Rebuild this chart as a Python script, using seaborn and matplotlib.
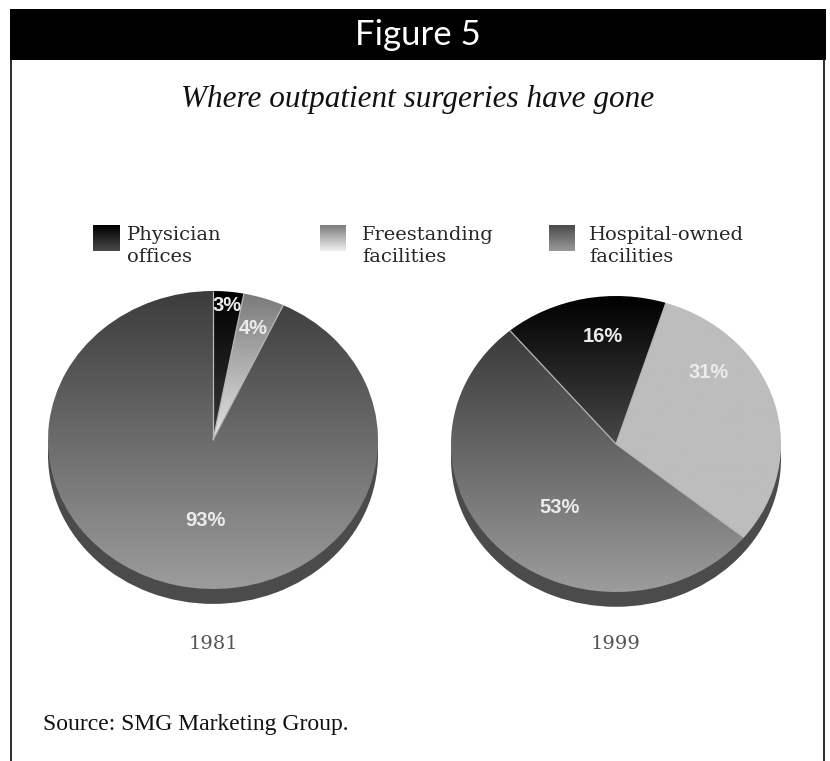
import numpy as np
import matplotlib
matplotlib.use("Agg")
import matplotlib.pyplot as plt
import seaborn as sns
from matplotlib.patches import Rectangle

# ---- data ----
categories = ["Physician\noffices", "Freestanding\nfacilities", "Hospital-owned\nfacilities"]
years = ["1981", "1999"]
shares_1981 = [3, 4, 93]
shares_1999 = [16, 31, 53]

title = "Figure 5"
subtitle = "Where outpatient surgeries have gone"
source = "Source: SMG Marketing Group."

# ---- styling ----
sns.set_theme(style="white")
plt.rcParams["font.family"] = ["DejaVu Sans"]

W, H = 830, 761
fig = plt.figure(figsize=(W / 100, H / 100), dpi=100)
fig.patch.set_facecolor("white")

# (top colour, bottom colour) of the shading used by each category, per pie
shades = {
    "1981": [("#000000", "#3a3a3a"), ("#7a7a7a", "#e6e6e6"), ("#3c3c3c", "#9c9c9c")],
    "1999": [("#000000", "#474747"), ("#bdbdbd", "#bdbdbd"), ("#3a3a3a", "#9c9c9c")],
}
swatch_shades = [("#000000", "#4a4a4a"), ("#7c7c7c", "#f0f0f0"), ("#4a4a4a", "#9a9a9a")]

# pie geometry in pixels: centre x, centre y, x radius, y radius
pie_geom = {"1981": (213, 440, 165, 149), "1999": (616, 444, 165, 148)}
start_angles = {"1981": 90, "1999": 130}
# label placement: (radial distance, angular offset in degrees)
label_place = {
    "1981": [(0.91, 0.0), (0.79, 0.0), (0.54, 8.0)],
    "1999": [(0.73, -5.0), (0.74, 24.0), (0.55, 6.0)],
}
LIM = 1.2


def vgrad(top, bottom, n=256):
    """Rows of colours running from bottom (row 0) to top."""
    return np.array(sns.blend_palette([bottom, top], n_colors=n))[:, None, :]


# ---- frame, header and text on a pixel-space overlay ----
bg = fig.add_axes([0, 0, 1, 1])
bg.axis("off")
bg.add_patch(Rectangle((10, 9), 816, 51, facecolor="black", edgecolor="none"))
bg.plot([11, 11], [60, H], color="#1a1a1a", lw=1.3)
bg.plot([824, 824], [60, H], color="#1a1a1a", lw=1.3)
bg.text(418, 35, title, color="white", fontsize=25, ha="center", va="center",
        family=["Lato", "DejaVu Sans"], fontweight="normal")
bg.text(418, 107, subtitle, fontsize=22.5, ha="center", va="baseline",
        family=["Liberation Serif"], style="italic", color="#111111")

# legend swatches and labels
swatch_x = [93, 320, 549]
text_x = [127, 362, 589]
for i, cat in enumerate(categories):
    top, bot = swatch_shades[i]
    img = vgrad(bot, top)  # row 0 drawn at the top with origin="upper"
    bg.imshow(img, extent=(swatch_x[i], swatch_x[i] + 26, 251, 225), origin="upper",
              aspect="auto", interpolation="bilinear", zorder=2)
    for j, line in enumerate(cat.split("\n")):
        bg.text(text_x[i], 240 + 22 * j, line, fontsize=14, ha="left", va="baseline",
                family=["DejaVu Serif"], color="#262626")

# year captions
for yr in years:
    cx = pie_geom[yr][0]
    bg.text(cx, 644, yr, fontsize=14, ha="center", va="center",
            family=["DejaVu Serif"], color="#555555")

bg.text(43, 730, source, fontsize=17, ha="left", va="baseline",
        family=["Liberation Serif"], color="#111111")

bg.set_xlim(0, W)
bg.set_ylim(H, 0)

# ---- pies ----
for yr, vals in zip(years, [shares_1981, shares_1999]):
    cx, cy, rx, ry = pie_geom[yr]
    w_px, h_px = 2 * LIM * rx, 2 * LIM * ry
    ax = fig.add_axes([(cx - w_px / 2) / W, (H - cy - h_px / 2) / H, w_px / W, h_px / H])

    # extruded side of the disc
    ax.pie([1], colors=["#4b4b4b"], center=(0, -0.1), radius=1,
           wedgeprops=dict(linewidth=0, zorder=1))

    wedges, _ = ax.pie(vals, startangle=start_angles[yr], counterclock=False,
                       colors=["none"] * len(vals),
                       wedgeprops=dict(linewidth=0, zorder=3))

    for k, wdg in enumerate(wedges):
        top, bot = shades[yr][k]
        ext = wdg.get_path().get_extents()
        im = ax.imshow(vgrad(top, bot), extent=(-1, 1, ext.y0, ext.y1), origin="lower",
                       aspect="auto", interpolation="bilinear", zorder=2)
        im.set_clip_path(wdg)

        # light seam along each slice boundary
        t = np.deg2rad(wdg.theta1)
        ax.plot([0, np.cos(t)], [0, np.sin(t)], color="#b8b8b8", lw=0.9, zorder=4,
                solid_capstyle="butt")

        dist, off = label_place[yr][k]
        mid = np.deg2rad((wdg.theta1 + wdg.theta2) / 2 + off)
        ax.text(dist * np.cos(mid), dist * np.sin(mid), f"{vals[k]}%",
                ha="center", va="center", fontsize=14.5, fontweight="bold",
                family=["Liberation Sans"], color="#ececec", zorder=5)

    ax.set_aspect("auto")
    ax.set_xlim(-LIM, LIM)
    ax.set_ylim(-LIM, LIM)
    ax.axis("off")

fig.savefig("out.png", dpi=100, facecolor="white")
